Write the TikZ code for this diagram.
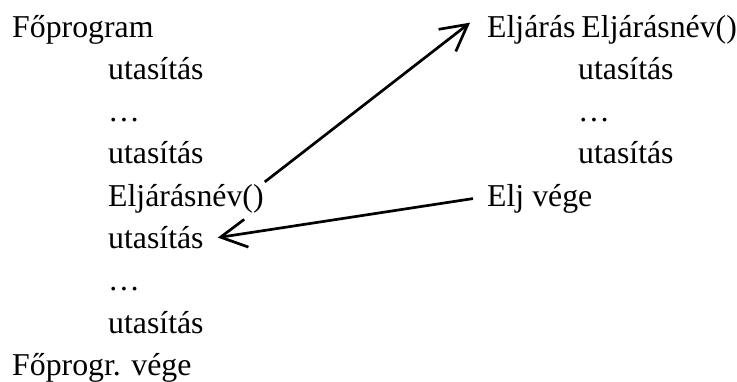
\documentclass[tikz,border=0pt]{standalone}
\usepackage{fontspec}
\setmainfont{Liberation Serif}
\usetikzlibrary{arrows.meta}
\begin{document}
\begin{tikzpicture}[x=1pt,y=-1pt,
  txt/.style={anchor=base west,inner sep=0pt,font=\fontsize{31.8}{38}\selectfont},
  link/.style={line width=2.7pt,-{Straight Barb[length=26pt,width=28pt,line width=2.7pt]}}]
\useasboundingbox (0,0) rectangle (737,381);
% left column
\node[txt] (fp)  at (12,37)    {Főprogram};
\node[txt] (u1)  at (108,79.3) {utasítás};
\node[txt] (d1)  at (108,121.6){…};
\node[txt] (u2)  at (108,163.9){utasítás};
\node[txt] (call) at (108,206.2){Eljárásnév()};
\node[txt] (u3)  at (108,248.5){utasítás};
\node[txt] (d2)  at (108,290.8){…};
\node[txt] (u4)  at (108,333.1){utasítás};
\node[txt] (fpv) at (12,375.4) {Főprogr. vége};
% right column
\node[txt] (head) at (487,37)    {Eljárás\hspace{6pt}Eljárásnév()};
\node[txt] (r1)   at (578,79.3)  {utasítás};
\node[txt] (rd)   at (578,121.6) {…};
\node[txt] (r2)   at (578,163.9) {utasítás};
\node[txt] (ev)   at (487,206.2) {Elj vége};
% arrows
\draw[link] ([shift={(1,-2)}]call.north east) -- ([shift={(-17,8)}]head.north west);
\draw[link] ([xshift=-14pt]ev.west) -- ([xshift=14pt]u3.east);
\end{tikzpicture}
\end{document}
